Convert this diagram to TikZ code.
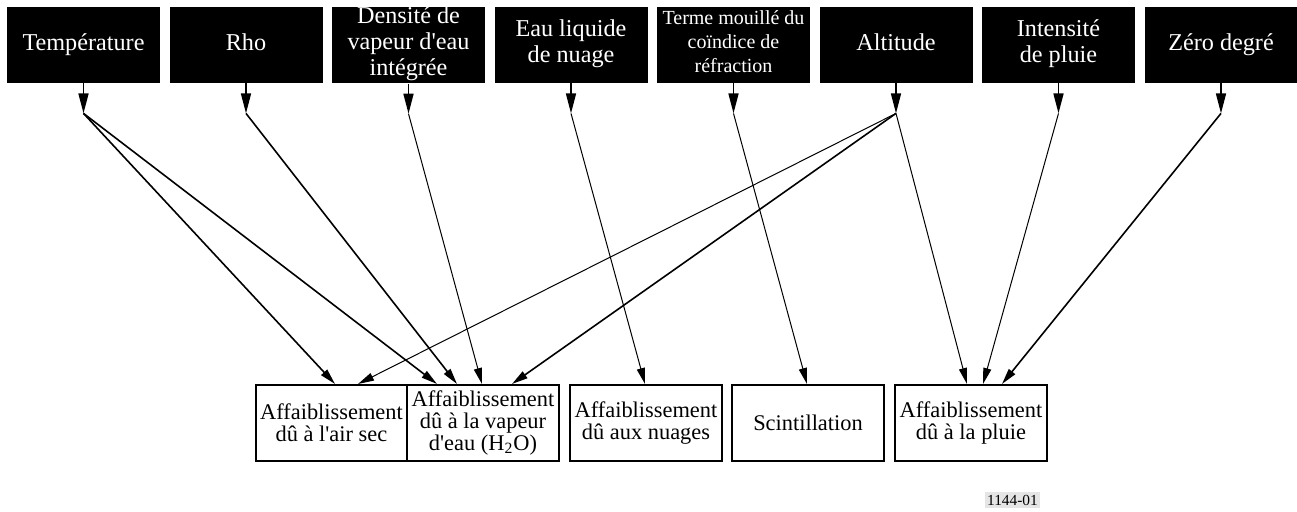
\documentclass[tikz,border=0pt]{standalone}
\usepackage{fontspec}
\setmainfont{Liberation Serif}
\usetikzlibrary{arrows.meta,positioning}

\tikzset{
    param/.style={fill=black,text=white,minimum width=76.5pt,minimum height=38pt,
        inner sep=0pt,align=center,font=\fontsize{12.1}{13}\selectfont,
        execute at begin node=\strut,execute at end node=\strut},
    effect/.style={draw=black,line width=1pt,fill=white,minimum width=76pt,
        minimum height=38pt,inner sep=0pt,align=center,font=\fontsize{11.2}{10.8}\selectfont},
    feed/.style={line width=0.8pt,-{Triangle[length=10pt,width=5pt]}},
    link/.style={line width=0.8pt,-{Triangle[length=8pt,width=4pt]}},
    thinlink/.style={link,line width=0.5pt},
    figno/.style={fill=black!10,inner sep=1.2pt,font=\fontsize{7.7}{8}\selectfont}
}

\begin{document}
\begin{tikzpicture}[x=0.5pt,y=-0.5pt]
    \useasboundingbox (0,0) rectangle (1297,512);

    % parameters
    \node[param] (temp) at (83.5,45) {Température};
    \node[param] (rho) at (246,45) {Rho};
    \node[param] (densite) at (408.5,45) {Densité de\\vapeur d\textquotesingle eau\\intégrée};
    \node[param] (eau) at (571,45) {Eau liquide\\de nuage};
    \node[param,font=\fontsize{10}{12}\selectfont] (terme) at (733.5,45) {Terme mouillé du\\coïndice de\\réfraction};
    \node[param] (alt) at (896,45) {Altitude};
    \node[param] (intens) at (1058.5,45) {Intensité\\de pluie};
    \node[param] (zero) at (1221,45) {Zéro degré};

    \foreach \p in {temp,rho,densite,eau,terme,alt,intens,zero}
        \coordinate[below=15pt of \p] (\p-j);
    \foreach \p in {temp,rho,densite,eau,terme,alt,intens,zero}
        \draw[feed] (\p) -- (\p-j);

    % attenuations
    \node[effect] (airsec) at (331.5,423) {Affaiblissement\\dû à l\textquotesingle air sec};
    \node[effect] (vapeur) at (483,423) {Affaiblissement\\dû à la vapeur\\d\textquotesingle eau (H\textsubscript{2}O)};
    \node[effect] (nuages) at (646,423) {Affaiblissement\\dû aux nuages};
    \node[effect] (scint) at (808,423) {Scintillation};
    \node[effect] (pluie) at (971,423) {Affaiblissement\\dû à la pluie};

    \draw[link] (temp-j) -- ([xshift=1.75pt]airsec.north);
    \draw[link] (temp-j) -- ([xshift=-23pt]vapeur.north);
    \draw[link] (rho-j) -- ([xshift=-13pt]vapeur.north);
    \draw[thinlink] (densite-j) -- ([xshift=-0.5pt]vapeur.north);
    \draw[thinlink] (eau-j) -- ([xshift=-0.5pt]nuages.north);
    \draw[thinlink] (terme-j) -- ([xshift=-0.5pt]scint.north);
    \draw[thinlink] (alt-j) -- ([xshift=13.25pt]airsec.north);
    \draw[link] (alt-j) -- ([xshift=14.5pt]vapeur.north);
    \draw[thinlink] (alt-j) -- ([xshift=-2pt]pluie.north);
    \draw[thinlink] (intens-j) -- ([xshift=6pt]pluie.north);
    \draw[link] (zero-j) -- ([xshift=15.5pt]pluie.north);

    \node[figno] (fig) at (1012.5,500) {1144-01};
\end{tikzpicture}
\end{document}
